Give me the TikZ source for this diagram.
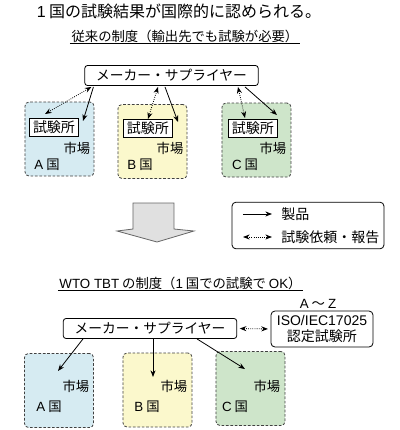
\documentclass[tikz,border=0pt]{standalone}
\usepackage{fontspec}
\setmainfont{Noto Sans CJK JP}
\newfontfamily\latfont{Liberation Sans}
\newcommand{\lat}[1]{{\latfont #1}}
\usetikzlibrary{arrows.meta}

\definecolor{ctyblue}{RGB}{214,235,242}
\definecolor{ctyyellow}{RGB}{251,248,204}
\definecolor{ctygreen}{RGB}{206,229,202}

\begin{document}
\begin{tikzpicture}[x=0.75pt,y=0.75pt,yscale=-1,xscale=1,
    txt/.style={inner sep=0.75pt,font=\fontsize{10pt}{12pt}\selectfont},
    maker/.style={draw,rounded corners=2pt,line width=0.6pt,minimum width=130pt,minimum height=15pt,inner sep=0pt,font=\fontsize{10.3pt}{12pt}\selectfont},
    lab/.style={draw,line width=0.6pt,minimum width=37pt,minimum height=13.5pt,inner sep=0pt,font=\fontsize{10.5pt}{12pt}\selectfont},
    cty/.style={draw=black!75,dash pattern={on 2pt off 1.3pt},rounded corners=3pt,line width=0.6pt,minimum width=51.75pt,minimum height=55.5pt,inner sep=0pt},
    prod/.style={-{Stealth[length=5pt,width=3.8pt]},line width=0.6pt},
    req/.style={{Stealth[length=5pt,width=3.8pt]}-{Stealth[length=5pt,width=3.8pt]},densely dotted,line width=0.6pt}]
        \useasboundingbox (0,0) rectangle (400,430);

        % Text Node: title
        \node (title) at (179,11) [txt,font=\fontsize{12pt}{14pt}\selectfont] {\lat{1} 国の試験結果が国際的に認められる。};
        % Text Node: old system
        \node (oldsys) at (185,36) [txt] {従来の制度（輸出先でも試験が必要）};
        \draw [line width=0.5pt] (70,43) -- (300,43) ;

        %Shape: maker (old)
        \node (makerA) at (171.5,75.5) [maker] {メーカー・サプライヤー};

        %Shape: countries (old)
        \node (ctyA) at (59.5,139) [cty,fill=ctyblue] {};
        \node (ctyB) at (152.5,141.5) [cty,fill=ctyyellow] {};
        \node (ctyC) at (256.5,140) [cty,fill=ctygreen] {};
        % labs
        \node (labA) at (54,127) [lab,fill=white] {試験所};
        \node (labB) at (148,128.5) [lab,fill=white] {試験所};
        \node (labC) at (253,128.5) [lab,fill=white] {試験所};
        % Text Node: markets
        \node (mktA) at (77,148) [txt] {市場};
        \node (mktB) at (170,148) [txt] {市場};
        \node (mktC) at (273,148) [txt] {市場};
        \node (nameA) at (47,165) [txt] {\lat{A} 国};
        \node (nameB) at (140,165) [txt] {\lat{B} 国};
        \node (nameC) at (245,165) [txt] {\lat{C} 国};

        %Straight Lines: requests and products
        \coordinate (rqA) at (45,114);
        \coordinate (pdA) at (83,121);
        \coordinate (rqB) at (148,119);
        \coordinate (pdB) at (178,122);
        \coordinate (rqC) at (245,118);
        \coordinate (pdC) at (277,115);
        \draw [req] (makerA.south west) ++(7,1) -- (rqA) ;
        \draw [prod] (makerA.south west) ++(9,1) -- (pdA) ;
        \draw [req] (makerA.south) ++(-13.5,1) -- (rqB) ;
        \draw [prod] (makerA.south) ++(-6.5,1) -- (pdB) ;
        \draw [req] (makerA.south) ++(66.5,1) -- (rqC) ;
        \draw [prod] (makerA.south) ++(73.5,1) -- (pdC) ;

        %Shape: big down arrow
        \draw [fill=black!12,draw=black!60,line width=0.6pt] (133,203) -- (174,203) -- (174,229) -- (194,231) -- (157,242) -- (117,231) -- (133,229) -- cycle ;

        %Shape: legend
        \node (legend) at (308,225.5) [draw,rounded corners=3pt,line width=0.6pt,minimum width=114pt,minimum height=35pt,inner sep=0pt] {};
        \coordinate (lgA1) at (243,214);
        \coordinate (lgA2) at (272,214);
        \coordinate (lgB1) at (243,237);
        \coordinate (lgB2) at (272,237);
        \draw [prod] (lgA1) -- (lgA2) ;
        \draw [req] (lgB1) -- (lgB2) ;
        \node (lgprod) at (280,214) [txt,anchor=west,font=\fontsize{10.5pt}{12pt}\selectfont] {製品};
        \node (lgreq) at (280,237) [txt,anchor=west,font=\fontsize{10.5pt}{12pt}\selectfont] {試験依頼・報告};

        % Text Node: WTO TBT system
        \node (newsys) at (180.5,283) [txt] {\lat{WTO TBT} の制度（\lat{1} 国での試験で \lat{OK}）};
        \draw [line width=0.5pt] (58,290) -- (303,290) ;

        %Shape: maker (new) and accredited lab
        \node (makerB) at (150,328.5) [maker] {メーカー・サプライヤー};
        \node (range) at (318,304) [txt] {\lat{A} ～ \lat{Z}};
        \node (iso) at (322,329) [draw,rounded corners=3pt,line width=0.6pt,minimum width=76.5pt,minimum height=27pt,inner sep=0pt,align=center,font=\fontsize{10.5pt}{12.5pt}\selectfont] {\lat{ISO/IEC17025}\\認定試験所};
        \draw [req,shorten <=2pt,shorten >=2pt] (makerB.east) -- (iso.west) ;

        %Shape: countries (new)
        \node (ctyA2) at (59,390.5) [cty,fill=ctyblue] {};
        \node (ctyB2) at (157.5,390) [cty,fill=ctyyellow] {};
        \node (ctyC2) at (250.5,388.5) [cty,fill=ctygreen] {};
        \node (mktA2) at (76,386) [txt] {市場};
        \node (mktB2) at (174,386) [txt] {市場};
        \node (mktC2) at (267,386) [txt] {市場};
        \node (nameA2) at (49,407) [txt] {\lat{A} 国};
        \node (nameB2) at (147,407) [txt] {\lat{B} 国};
        \node (nameC2) at (235,407) [txt] {\lat{C} 国};

        %Straight Lines: products
        \coordinate (pdA2) at (58,371);
        \coordinate (pdB2) at (153,377);
        \coordinate (pdC2) at (245,369);
        \draw [prod] (makerB.south) ++(-67,0) -- (pdA2) ;
        \draw [prod] (makerB.south) ++(3,0) -- (pdB2) ;
        \draw [prod] (makerB.south) ++(47,0) -- (pdC2) ;
\end{tikzpicture}
\end{document}
